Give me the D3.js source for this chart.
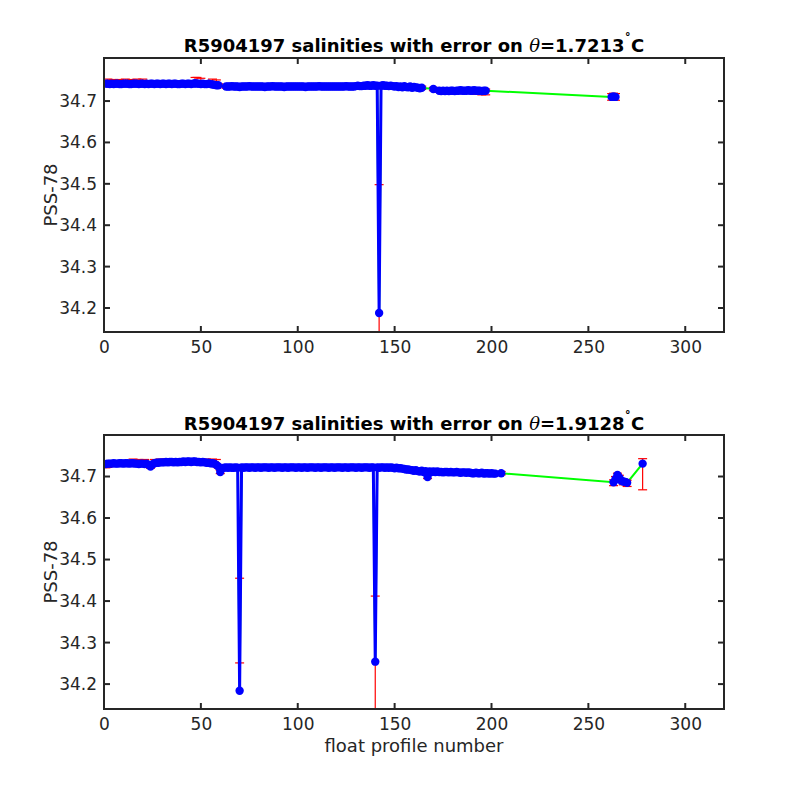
<!DOCTYPE html>
<html><head><meta charset="utf-8">
<script src="https://cdn.jsdelivr.net/npm/d3@7"></script>
<style>
body{margin:0;background:#fff}
text{font-family:"DejaVu Sans",sans-serif;fill:#262626}
</style></head>
<body><svg id="c" width="800" height="800"></svg>
<script>
// ---------- DATA ----------
const xTicks = [0, 50, 100, 150, 200, 250, 300];
const yTicks = [34.2, 34.3, 34.4, 34.5, 34.6, 34.7];

// top panel (theta = 1.7213)
const topTheta = "1.7213";
const topProfiles = [].concat(d3.range(1, 60), d3.range(63, 165), [170], d3.range(173, 198), [262, 263, 264]);
const topSalinity = [
 34.742,34.742,34.741,34.742,34.741,34.742,34.742,34.741,34.741,34.742,
 34.742,34.742,34.741,34.741,34.742,34.742,34.742,34.741,34.742,34.742,
 34.741,34.742,34.741,34.742,34.742,34.741,34.742,34.742,34.741,34.742,
 34.742,34.741,34.742,34.742,34.741,34.742,34.742,34.741,34.741,34.742,
 34.742,34.741,34.742,34.742,34.741,34.742,34.743,34.742,34.742,34.741,
 34.742,34.741,34.741,34.742,34.741,34.740,34.739,34.738,34.738,
 // 63-164
 34.735,34.735,34.735,34.736,34.735,34.735,34.735,34.734,34.735,34.735,34.735,34.735,34.736,34.735,34.735,34.735,34.735,34.735,
 34.735,34.735,34.734,34.735,34.735,34.735,34.736,34.735,34.735,34.735,34.735,34.735,34.734,34.735,34.735,34.735,34.735,34.735,34.735,34.735,
 34.735,34.735,34.735,34.734,34.735,34.735,34.735,34.735,34.735,34.735,34.736,34.735,34.735,34.735,34.735,34.735,34.735,34.735,34.735,34.735,
 34.735,34.735,34.735,34.735,34.736,34.735,34.735,34.735,34.735,34.736,34.737,34.736,34.736,34.737,34.737,34.738,34.737,34.737,34.738,34.737,34.737,
 34.188,
 34.737,34.738,34.737,34.737,34.736,34.737,34.736,34.735,34.736,34.734,34.735,34.733,34.736,34.734,34.733,34.735,34.732,34.734,34.733,34.732,34.731,34.732,
 // 170
 34.729,
 // 173-197
 34.725,34.724,34.725,34.724,34.725,34.724,34.725,34.725,34.724,34.725,34.725,34.726,34.725,34.725,34.725,34.726,34.725,34.725,34.726,34.725,34.725,34.725,34.724,34.725,34.725,
 // 262-264
 34.710,34.711,34.710
];
const topErrorDefault = 0.004;
// [profile, error below, error above]
const topErrOverrides = [
 [2,0.004,0.011],[5,0.004,0.011],[8,0.004,0.011],[11,0.004,0.011],[14,0.004,0.011],[17,0.004,0.011],[20,0.004,0.011],
 [47,0.004,0.014],[48,0.004,0.015],[50,0.004,0.014],
 [56,0.004,0.013],[58,0.004,0.013],
 [142,0.31,0.31],
 [192,0.009,0.004],[195,0.009,0.004],[197,0.010,0.004],
 [262,0.008,0.008],[263,0.008,0.008],[264,0.008,0.008]
];

// bottom panel (theta = 1.9128)
const botTheta = "1.9128";
const botProfiles = [].concat(d3.range(1, 61), d3.range(62, 203), [205], d3.range(263, 271), [278]);
const botSalinity = [
 34.730,34.731,34.731,34.731,34.732,34.731,34.731,34.732,34.732,34.731,
 34.732,34.732,34.731,34.732,34.732,34.731,34.731,34.730,34.731,34.731,
 34.730,34.731,34.728,34.724,34.729,34.732,34.733,34.733,34.734,34.734,
 34.734,34.735,34.734,34.735,34.735,34.734,34.735,34.734,34.735,34.735,
 34.736,34.735,34.736,34.736,34.735,34.736,34.736,34.735,34.735,34.734,
 34.735,34.734,34.733,34.733,34.732,34.732,34.731,34.728,34.724,34.711,
 // 62-69
 34.721,34.722,34.721,34.722,34.721,34.721,34.722,34.721,
 // 70
 34.184,
 // 71-90
 34.722,34.721,34.722,34.722,34.721,34.722,34.722,34.721,34.722,34.722,34.721,34.722,34.722,34.722,34.721,34.722,34.722,34.721,34.722,34.722,
 // 91-110
 34.722,34.721,34.722,34.722,34.721,34.722,34.722,34.722,34.721,34.722,34.722,34.721,34.722,34.722,34.721,34.722,34.722,34.722,34.721,34.722,
 // 111-139
 34.722,34.721,34.722,34.722,34.722,34.721,34.722,34.722,34.721,34.722,34.722,34.722,34.721,34.722,34.722,34.721,34.722,34.722,34.722,34.721,34.722,34.722,34.721,34.722,34.722,34.722,34.721,34.722,34.722,
 // 140
 34.254,
 // 141-170
 34.722,34.721,34.722,34.722,34.721,34.722,34.721,34.722,34.721,34.720,34.721,34.720,34.720,34.719,34.718,34.717,34.717,34.716,34.715,34.714,34.715,34.713,34.712,34.714,34.711,34.713,34.699,34.712,34.711,34.712,
 // 171-202
 34.711,34.712,34.711,34.711,34.710,34.711,34.711,34.710,34.711,34.710,34.710,34.711,34.710,34.709,34.710,34.710,34.709,34.710,34.709,34.708,34.708,34.709,34.708,34.708,34.709,34.707,34.708,34.708,34.707,34.708,34.707,34.707,
 // 205
 34.708,
 // 263-270
 34.686,34.694,34.704,34.697,34.690,34.688,34.687,34.685,
 // 278
 34.731
];
const botErrorDefault = 0.004;
const botErrOverrides = [
 [1,0.009,0.004],[2,0.009,0.004],
 [15,0.004,0.010],[18,0.004,0.011],[21,0.004,0.011],[26,0.004,0.009],[29,0.004,0.008],[32,0.004,0.007],
 [35,0.004,0.007],[38,0.004,0.007],[41,0.004,0.006],[44,0.004,0.006],[47,0.004,0.006],[50,0.004,0.008],
 [53,0.004,0.009],[56,0.004,0.010],[58,0.004,0.013],
 [140,0.158,0.158],
 [263,0.008,0.006],[264,0.008,0.006],[266,0.008,0.006],[268,0.008,0.006],[270,0.009,0.006]
];
// error bars not centred on a marker: [profile, lower, upper]
const botOffsetBars = [[70, 34.251, 34.455], [278, 34.668, 34.743]];

// ---------- DRAW ----------
const svg = d3.select("#c");
const X0 = 104, X1 = 724;
const panels = [
  {top:58,  bottom:332, domain:[34.142, 34.804], theta:topTheta, p:topProfiles, s:topSalinity,
   errDef:topErrorDefault, over:topErrOverrides, offs:[], titleY:52, xlabel:false},
  {top:435, bottom:709, domain:[34.140, 34.800], theta:botTheta, p:botProfiles, s:botSalinity,
   errDef:botErrorDefault, over:botErrOverrides, offs:botOffsetBars, titleY:430, xlabel:true}
];
const axisColor = "#262626";

panels.forEach((P, k) => {
  const x = d3.scaleLinear().domain([0, 320]).range([X0, X1]);
  const y = d3.scaleLinear().domain(P.domain).range([P.bottom, P.top]);
  const g = svg.append("g");
  const cid = "clip" + k;
  svg.append("clipPath").attr("id", cid).append("rect")
    .attr("x", X0).attr("y", P.top).attr("width", X1 - X0).attr("height", P.bottom - P.top);

  const pts = P.p.map((p, i) => {
    const o = P.over.find(v => v[0] === p);
    return {p, s: P.s[i], dn: o ? o[1] : P.errDef, up: o ? o[2] : P.errDef};
  });
  const offP = P.offs.map(o => o[0]);

  const plot = g.append("g").attr("clip-path", `url(#${cid})`);
  // green line through all profiles
  const line = d3.line().x(d => x(d.p)).y(d => y(d.s));
  plot.append("path").datum(pts).attr("d", line)
    .attr("fill", "none").attr("stroke", "#00ff00").attr("stroke-width", 2);

  // error bars
  const bars = pts.filter(d => !offP.includes(d.p)).map(d => ({p: d.p, lo: d.s - d.dn, hi: d.s + d.up}))
    .concat(P.offs.map(o => ({p: o[0], lo: o[1], hi: o[2]})));
  const eb = plot.append("g").attr("stroke", "#ff0000").attr("stroke-width", 1.2).attr("fill", "none");
  bars.forEach(b => {
    const cx = x(b.p);
    eb.append("line").attr("x1", cx).attr("x2", cx).attr("y1", y(b.lo)).attr("y2", y(b.hi));
    eb.append("line").attr("x1", cx - 4.5).attr("x2", cx + 4.5).attr("y1", y(b.lo)).attr("y2", y(b.lo));
    eb.append("line").attr("x1", cx - 4.5).attr("x2", cx + 4.5).attr("y1", y(b.hi)).attr("y2", y(b.hi));
  });

  // blue line only between consecutive profiles
  const gapData = [];
  pts.forEach((d, i) => {
    if (i > 0 && d.p - pts[i - 1].p > 1) gapData.push(null);
    gapData.push(d);
  });
  const bline = d3.line().defined(d => d !== null).x(d => x(d.p)).y(d => y(d.s));
  plot.append("path").datum(gapData).attr("d", bline)
    .attr("fill", "none").attr("stroke", "#0000ff").attr("stroke-width", 3).attr("stroke-linejoin", "round");

  // markers
  plot.append("g").selectAll("circle").data(pts).join("circle")
    .attr("cx", d => x(d.p)).attr("cy", d => y(d.s)).attr("r", 4.2).attr("fill", "#0000ff");

  // axes box
  g.append("rect").attr("x", X0).attr("y", P.top).attr("width", X1 - X0).attr("height", P.bottom - P.top)
    .attr("fill", "none").attr("stroke", axisColor).attr("stroke-width", 2);

  const tl = 6;
  // x ticks
  const xa = d3.axisBottom(x).tickValues(xTicks).tickSize(0).tickPadding(9).tickFormat(d3.format("d"));
  const xg = g.append("g").attr("transform", `translate(0,${P.bottom})`).call(xa);
  xg.select(".domain").remove();
  xg.selectAll("text").attr("font-size", 17).attr("font-family", "DejaVu Sans").attr("fill", axisColor);
  xTicks.forEach(t => {
    g.append("line").attr("x1", x(t)).attr("x2", x(t)).attr("y1", P.bottom).attr("y2", P.bottom - tl).attr("stroke", axisColor).attr("stroke-width", 2);
    g.append("line").attr("x1", x(t)).attr("x2", x(t)).attr("y1", P.top).attr("y2", P.top + tl).attr("stroke", axisColor).attr("stroke-width", 2);
  });
  // y ticks
  const ya = d3.axisLeft(y).tickValues(yTicks).tickSize(0).tickPadding(7).tickFormat(d3.format(".1f"));
  const yg = g.append("g").attr("transform", `translate(${X0},0)`).call(ya);
  yg.select(".domain").remove();
  yg.selectAll("text").attr("font-size", 17).attr("font-family", "DejaVu Sans").attr("fill", axisColor);
  yTicks.forEach(t => {
    g.append("line").attr("x1", X0).attr("x2", X0 + tl).attr("y1", y(t)).attr("y2", y(t)).attr("stroke", axisColor).attr("stroke-width", 2);
    g.append("line").attr("x1", X1).attr("x2", X1 - tl).attr("y1", y(t)).attr("y2", y(t)).attr("stroke", axisColor).attr("stroke-width", 2);
  });

  // y label
  g.append("text").attr("transform", `translate(57,${(P.top + P.bottom) / 2}) rotate(-90)`)
    .attr("text-anchor", "middle").attr("font-size", 18).text("PSS-78");

  // title
  const t = g.append("text").attr("x", (X0 + X1) / 2).attr("y", P.titleY)
    .attr("text-anchor", "middle").attr("font-size", 18).attr("font-weight", "bold").style("fill", "#000");
  t.append("tspan").text("R5904197 salinities with error on ");
  t.append("tspan").attr("font-style", "italic").attr("font-weight", "normal").attr("font-family", "DejaVu Serif").style("fill", "#000").text("θ");
  t.append("tspan").style("fill", "#000").text("=" + P.theta);
  t.append("tspan").attr("dy", -8).attr("font-size", 13).style("fill", "#000").text("˚");
  t.append("tspan").attr("dy", 8).style("fill", "#000").text("C");

  if (P.xlabel) {
    g.append("text").attr("x", (X0 + X1) / 2).attr("y", 752).attr("text-anchor", "middle")
      .attr("font-size", 18).text("float profile number");
  }
});
</script></body></html>
